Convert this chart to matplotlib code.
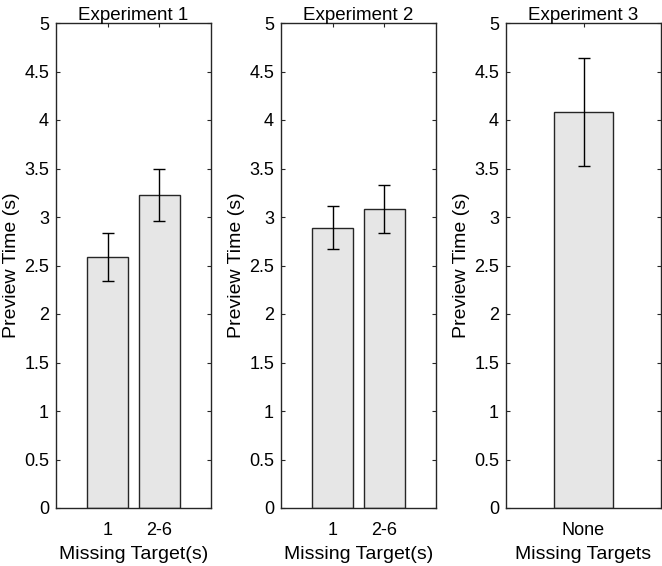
import matplotlib
matplotlib.use('Agg')
import matplotlib.pyplot as plt
import numpy as np

plt.rcParams['font.family'] = ['Liberation Sans', 'DejaVu Sans']

# bar heights and error bars
titles = ['Experiment 1', 'Experiment 2', 'Experiment 3']
cats1 = ['1', '2-6']
exp1 = [2.59, 3.23]
err1 = [0.25, 0.27]
cats2 = ['1', '2-6']
exp2 = [2.89, 3.08]
err2 = [0.22, 0.25]
cats3 = ['None']
exp3 = [4.08]
err3 = [0.555]
xlabels = ['Missing Target(s)', 'Missing Target(s)', 'Missing Targets']
yticks = np.arange(0, 5.01, 0.5)
ytick_labels = ['0', '0.5', '1', '1.5', '2', '2.5', '3', '3.5', '4', '4.5', '5']

fig = plt.figure(figsize=(6.62, 5.66), dpi=100)
lefts = [56 / 662, 281 / 662, 506 / 662]
w = 155 / 662
b = 58 / 566
h = 485 / 566

panels = [(cats1, exp1, err1), (cats2, exp2, err2), (cats3, exp3, err3)]
edge = '#262626'
for i, (cats, vals, errs) in enumerate(panels):
    ax = fig.add_axes([lefts[i], b, w, h])
    x = np.arange(1, len(cats) + 1)
    if len(cats) == 1:
        bw = 0.38
        ax.set_xlim(0.5, 1.5)
    else:
        bw = 0.8
        ax.set_xlim(0, len(cats) + 1)
    ax.bar(x, vals, width=bw, color='#e6e6e6', edgecolor=edge, linewidth=1.0, zorder=2)
    ax.errorbar(x, vals, yerr=errs, fmt='none', ecolor='black', elinewidth=1.0,
                capsize=4, capthick=1.0, zorder=3)
    ax.set_ylim(0, 5)
    ax.set_yticks(yticks)
    ax.set_yticklabels(ytick_labels)
    ax.set_xticks(x)
    ax.set_xticklabels(cats)
    ax.tick_params(direction='in', length=3, width=0.8, colors=edge, labelcolor='black',
                   labelsize=13, top=True, right=True)
    ax.tick_params(axis='y', pad=5)
    ax.tick_params(axis='x', pad=10)
    for s in ax.spines.values():
        s.set_color(edge)
        s.set_linewidth(1.0)
    ax.set_title(titles[i], fontsize=13.5, pad=2)
    ax.set_xlabel(xlabels[i], fontsize=14, labelpad=5)
    ax.set_ylabel('Preview Time (s)', fontsize=14, labelpad=3)

fig.savefig('out.png', dpi=100)
